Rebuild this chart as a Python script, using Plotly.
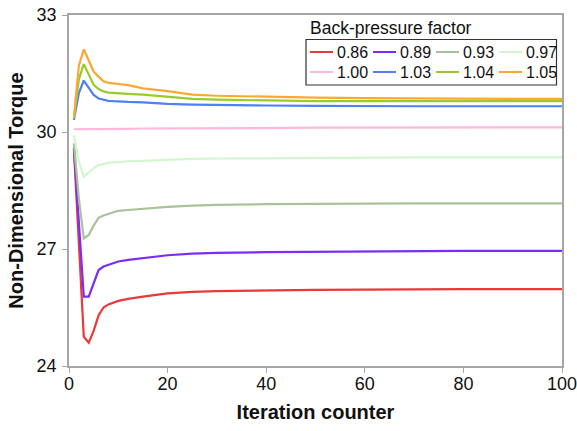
import plotly.graph_objects as go

iters = [1, 2, 3, 4, 5, 6, 7, 8, 9, 10, 12, 15, 20, 25, 30, 40, 50, 60, 70, 80, 90, 100]

factors = ["0.86", "0.89", "0.93", "0.97", "1.00", "1.03", "1.04", "1.05"]

t086 = [29.55, 27.30, 24.75, 24.60, 24.90, 25.30, 25.50, 25.58, 25.63, 25.67, 25.72, 25.78, 25.86, 25.90, 25.92, 25.94, 25.95, 25.96, 25.97, 25.97, 25.97, 25.97]
t089 = [29.60, 27.60, 25.78, 25.78, 26.10, 26.46, 26.55, 26.60, 26.65, 26.68, 26.72, 26.77, 26.84, 26.88, 26.90, 26.92, 26.93, 26.94, 26.95, 26.95, 26.95, 26.95]
t093 = [29.71, 28.30, 27.27, 27.36, 27.60, 27.80, 27.86, 27.90, 27.95, 27.98, 28.00, 28.03, 28.08, 28.11, 28.13, 28.15, 28.16, 28.16, 28.17, 28.17, 28.17, 28.17]
t097 = [29.92, 29.25, 28.85, 28.96, 29.07, 29.15, 29.19, 29.21, 29.22, 29.23, 29.25, 29.26, 29.29, 29.31, 29.32, 29.33, 29.34, 29.34, 29.35, 29.35, 29.35, 29.35]
t100 = [30.07, 30.07, 30.07, 30.07, 30.08, 30.08, 30.08, 30.08, 30.08, 30.08, 30.08, 30.09, 30.09, 30.09, 30.10, 30.10, 30.11, 30.11, 30.11, 30.12, 30.12, 30.12]
t103 = [30.31, 31.00, 31.32, 31.15, 30.95, 30.86, 30.82, 30.80, 30.79, 30.78, 30.77, 30.76, 30.72, 30.70, 30.69, 30.68, 30.67, 30.66, 30.66, 30.66, 30.66, 30.66]
t104 = [30.35, 31.35, 31.74, 31.48, 31.21, 31.10, 31.04, 31.01, 31.00, 30.99, 30.98, 30.96, 30.90, 30.85, 30.83, 30.81, 30.79, 30.79, 30.79, 30.79, 30.79, 30.79]
t105 = [30.39, 31.70, 32.12, 31.85, 31.55, 31.42, 31.30, 31.26, 31.25, 31.23, 31.20, 31.12, 31.05, 30.96, 30.93, 30.90, 30.88, 30.87, 30.86, 30.86, 30.85, 30.85]

series = [t086, t089, t093, t097, t100, t103, t104, t105]
colors = ["#e8393b", "#7b2df7", "#a8c39a", "#d2f7cf", "#ffb7da", "#4f80f7", "#9acb2c", "#fba833"]

legend_title = "Back-pressure factor"
x_title = "Iteration counter"
y_title = "Non-Dimensional Torque"

W, H = 577, 431
L, R, T, B = 69, 15, 15, 65
PW, PH = W - L - R, H - T - B

def px(x):
    return (x - L) / PW

def py(y):
    return (H - B - y) / PH

fig = go.Figure()
for name, vals, col in zip(factors, series, colors):
    fig.add_trace(go.Scatter(x=iters, y=vals, mode="lines", name=name,
                             line=dict(color=col, width=2.2), showlegend=False))

FONT = "Liberation Sans, Arial, sans-serif"
shapes = []
annotations = []
# legend box
shapes.append(dict(type="rect", xref="paper", yref="paper",
                   x0=px(306), x1=px(556.5), y0=py(85), y1=py(39.5),
                   line=dict(color="#333333", width=1.2), fillcolor="white", layer="above"))
annotations.append(dict(text=legend_title, xref="paper", yref="paper", x=px(308), y=py(28.5),
                        xanchor="left", yanchor="middle", showarrow=False,
                        font=dict(family=FONT, size=17.5, color="#111111")))
col_x = [310, 373, 436, 499]
row_y = [52, 72]
for i, (name, col) in enumerate(zip(factors, colors)):
    cx = col_x[i % 4]
    ry = row_y[i // 4]
    shapes.append(dict(type="line", xref="paper", yref="paper",
                       x0=px(cx), x1=px(cx + 23), y0=py(ry), y1=py(ry),
                       line=dict(color=col, width=2), layer="above"))
    annotations.append(dict(text=name, xref="paper", yref="paper", x=px(cx + 25), y=py(ry),
                            xanchor="left", yanchor="middle", showarrow=False,
                            font=dict(family=FONT, size=16, color="#111111")))

fig.update_layout(
    width=W, height=H,
    margin=dict(l=L, r=R, t=T, b=B, autoexpand=False),
    paper_bgcolor="white", plot_bgcolor="white",
    shapes=shapes, annotations=annotations,
    font=dict(family=FONT, color="#111111"),
)
fig.update_xaxes(range=[0, 100], tickvals=[0, 20, 40, 60, 80, 100], automargin=False,
                 ticklabeloverflow="allow", ticklabelstandoff=-4,
                 showgrid=False, zeroline=False, showline=True, linecolor="#a6a6a6", linewidth=1.5,
                 mirror=True, ticks="outside", ticklen=5, tickcolor="#a6a6a6",
                 tickfont=dict(family=FONT, size=18, color="#111111"),
                 title=dict(text=x_title, font=dict(family=FONT, size=20, weight="bold", color="#111111"), standoff=12))
fig.update_yaxes(range=[24, 33], tickvals=[24, 27, 30, 33], automargin=False,
                 ticklabeloverflow="allow", ticklabelstandoff=2,
                 showgrid=False, zeroline=False, showline=True, linecolor="#a6a6a6", linewidth=1.5,
                 mirror=True, ticks="outside", ticklen=5, tickcolor="#a6a6a6",
                 tickfont=dict(family=FONT, size=18, color="#111111"),
                 title=dict(text=y_title, font=dict(family=FONT, size=20, weight="bold", color="#111111"), standoff=8))

fig.write_html("out.html")
